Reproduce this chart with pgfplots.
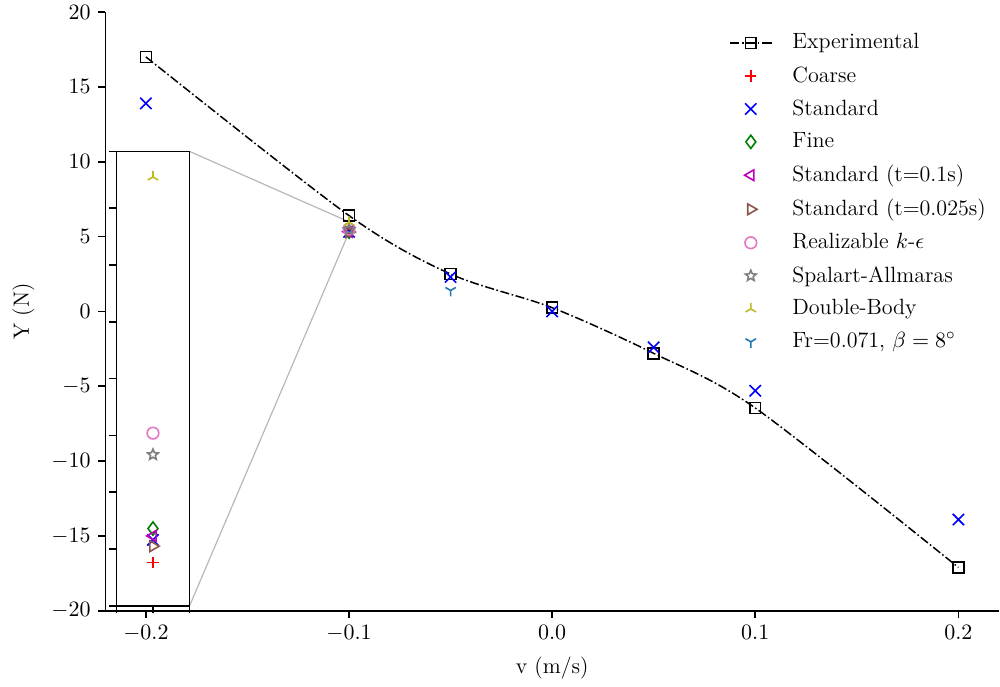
\documentclass[border=0pt]{standalone}
\usepackage{pgfplots}
\pgfplotsset{compat=1.18}
\usetikzlibrary{plotmarks}

\definecolor{cblue}{rgb}{0,0,1}
\definecolor{cgreen}{rgb}{0,0.5,0}
\definecolor{cmag}{rgb}{0.75,0,0.75}
\definecolor{cbrown}{HTML}{8C564B}
\definecolor{cpink}{HTML}{E377C2}
\definecolor{cgray}{HTML}{7F7F7F}
\definecolor{colive}{HTML}{BCBD22}
\definecolor{ctab}{HTML}{1F77B4}

\pgfdeclareplotmark{fivestar}{%
  \pgfpathmoveto{\pgfpointpolar{90}{\pgfplotmarksize}}%
  \pgfpathlineto{\pgfpointpolar{126}{0.45\pgfplotmarksize}}%
  \pgfpathlineto{\pgfpointpolar{162}{\pgfplotmarksize}}%
  \pgfpathlineto{\pgfpointpolar{198}{0.45\pgfplotmarksize}}%
  \pgfpathlineto{\pgfpointpolar{234}{\pgfplotmarksize}}%
  \pgfpathlineto{\pgfpointpolar{270}{0.45\pgfplotmarksize}}%
  \pgfpathlineto{\pgfpointpolar{306}{\pgfplotmarksize}}%
  \pgfpathlineto{\pgfpointpolar{342}{0.45\pgfplotmarksize}}%
  \pgfpathlineto{\pgfpointpolar{18}{\pgfplotmarksize}}%
  \pgfpathlineto{\pgfpointpolar{54}{0.45\pgfplotmarksize}}%
  \pgfpathclose\pgfusepathqstroke}
\pgfdeclareplotmark{triup}{%
  \pgfpathmoveto{\pgfpointorigin}\pgfpathlineto{\pgfpointpolar{90}{\pgfplotmarksize}}%
  \pgfpathmoveto{\pgfpointorigin}\pgfpathlineto{\pgfpointpolar{210}{\pgfplotmarksize}}%
  \pgfpathmoveto{\pgfpointorigin}\pgfpathlineto{\pgfpointpolar{330}{\pgfplotmarksize}}%
  \pgfusepathqstroke}
\pgfdeclareplotmark{tridown}{%
  \pgfpathmoveto{\pgfpointorigin}\pgfpathlineto{\pgfpointpolar{270}{\pgfplotmarksize}}%
  \pgfpathmoveto{\pgfpointorigin}\pgfpathlineto{\pgfpointpolar{30}{\pgfplotmarksize}}%
  \pgfpathmoveto{\pgfpointorigin}\pgfpathlineto{\pgfpointpolar{150}{\pgfplotmarksize}}%
  \pgfusepathqstroke}

\pgfplotsset{
  expline/.style={black, line width=0.75pt, smooth, tension=0.5, dash pattern=on 4.5pt off 1.3pt on 0.8pt off 1.3pt,
    mark=square, mark size=2.7pt, mark options={solid, line width=0.8pt}},
  scoarse/.style={only marks, red, mark=+, mark size=2.8pt, line width=0.8pt},
  sstd/.style={only marks, cblue, mark=x, mark size=4pt, line width=0.8pt},
  sfine/.style={only marks, cgreen, mark=diamond, mark size=3.3pt, line width=0.8pt},
  stone/.style={only marks, cmag, mark=triangle, mark size=3.1pt, line width=0.8pt, mark options={rotate=90}},
  sttwo/.style={only marks, cbrown, mark=triangle, mark size=3.1pt, line width=0.8pt, mark options={rotate=-90}},
  sreal/.style={only marks, cpink, mark=o, mark size=2.9pt, line width=0.8pt},
  sspal/.style={only marks, cgray, mark=fivestar, mark size=2.8pt, line width=0.8pt},
  sdb/.style={only marks, colive, mark=triup, mark size=3pt, line width=0.8pt},
  sfr/.style={only marks, ctab, mark=tridown, mark size=3pt, line width=0.8pt},
}

\begin{document}
\fontsize{11}{13.2}\selectfont
\begin{tikzpicture}
\begin{axis}[
  name=main,
  scale only axis,
  width=445.5pt, height=298.5pt,
  xmin=-0.22, xmax=0.22, ymin=-20, ymax=20,
  axis x line*=bottom, axis y line*=left,
  axis line style={line width=0.8pt},
  tick align=outside, tick pos=left,
  major tick length=3.5pt,
  every tick/.style={black, line width=0.8pt},
  xtick={-0.2,-0.1,0,0.1,0.2},
  ytick={-20,-15,-10,-5,0,5,10,15,20},
  xticklabel style={/pgf/number format/.cd, fixed, fixed zerofill, precision=1},
  xlabel={v (m/s)}, ylabel={Y (N)},
  ylabel style={yshift=1pt},
  legend cell align=left,
  legend image code/.code={\draw[mark repeat=2,mark phase=2,#1] plot coordinates {(0cm,0cm)(0.36cm,0cm)(0.72cm,0cm)}; \path[draw=none,fill=none] (0.72cm,0cm) -- ++(8.5pt,0pt);},
  legend style={draw=none, fill=none, at={(0.997,0.978)}, anchor=north east, row sep=3.1pt},
  clip=false,
]
\coordinate (insSW) at (rel axis cs:0.01235,0.0084);
\draw[black!28, line width=0.6pt] (rel axis cs:0.0943,0.7672) -- (axis cs:-0.1003,6.0);
\draw[black!28, line width=0.6pt] (rel axis cs:0.0943,0.0084) -- (axis cs:-0.1003,5.2);
\draw[black!45, line width=0.4pt] (axis cs:-0.1003,5.2) rectangle (axis cs:-0.0997,6.0);
\addplot[expline] coordinates {(-0.2,17.0) (-0.1,6.4) (-0.05,2.5) (0,0.25) (0.05,-2.8) (0.1,-6.45) (0.2,-17.1)};
\addlegendentry{Experimental}
\addplot[scoarse] coordinates {(-0.1,5.276)};
\addlegendentry{Coarse}
\addplot[sstd] coordinates {(-0.2,13.9) (-0.1,5.316) (-0.05,2.3) (0,0.0) (0.05,-2.4) (0.1,-5.3) (0.2,-13.9)};
\addlegendentry{Standard}
\addplot[sfine] coordinates {(-0.1,5.336)};
\addlegendentry{Fine}
\addplot[stone] coordinates {(-0.1,5.323)};
\addlegendentry{Standard (t=0.1s)}
\addplot[sttwo] coordinates {(-0.1,5.305)};
\addlegendentry{Standard (t=0.025s)}
\addplot[sreal] coordinates {(-0.1,5.504)};
\addlegendentry{Realizable $k$-$\epsilon$}
\addplot[sspal] coordinates {(-0.1,5.466)};
\addlegendentry{Spalart-Allmaras}
\addplot[sdb] coordinates {(-0.1,5.955)};
\addlegendentry{Double-Body}
\addplot[sfr] coordinates {(-0.05,1.4)};
\addlegendentry{Fr=0.071, $\beta=8^\circ$}
\end{axis}

\begin{axis}[
  at={(insSW)}, anchor=south west,
  scale only axis,
  width=36.5pt, height=226.5pt,
  xmin=-0.1004, xmax=-0.0996, ymin=5.2, ymax=6.0,
  axis background/.style={fill=white},
  axis line style={line width=0.8pt},
  tick align=outside, tick pos=left,
  major tick length=3.5pt,
  every tick/.style={black, line width=0.8pt},
  xtick={-0.1004,-0.1,-0.0996},
  ytick={5.2,5.3,5.4,5.5,5.6,5.7,5.8,5.9,6.0},
  xticklabels={}, yticklabels={},
]
\addplot[scoarse] coordinates {(-0.1,5.276)};
\addplot[sstd] coordinates {(-0.1,5.316)};
\addplot[sfine] coordinates {(-0.1,5.336)};
\addplot[stone] coordinates {(-0.1,5.323)};
\addplot[sttwo] coordinates {(-0.1,5.305)};
\addplot[sreal] coordinates {(-0.1,5.504)};
\addplot[sspal] coordinates {(-0.1,5.466)};
\addplot[sdb] coordinates {(-0.1,5.955)};
\end{axis}
\pgfresetboundingbox
\useasboundingbox ([xshift=-52.5pt,yshift=-37.5pt]main.south west) rectangle ([xshift=0.5pt,yshift=6pt]main.north east);
\end{tikzpicture}
\end{document}
